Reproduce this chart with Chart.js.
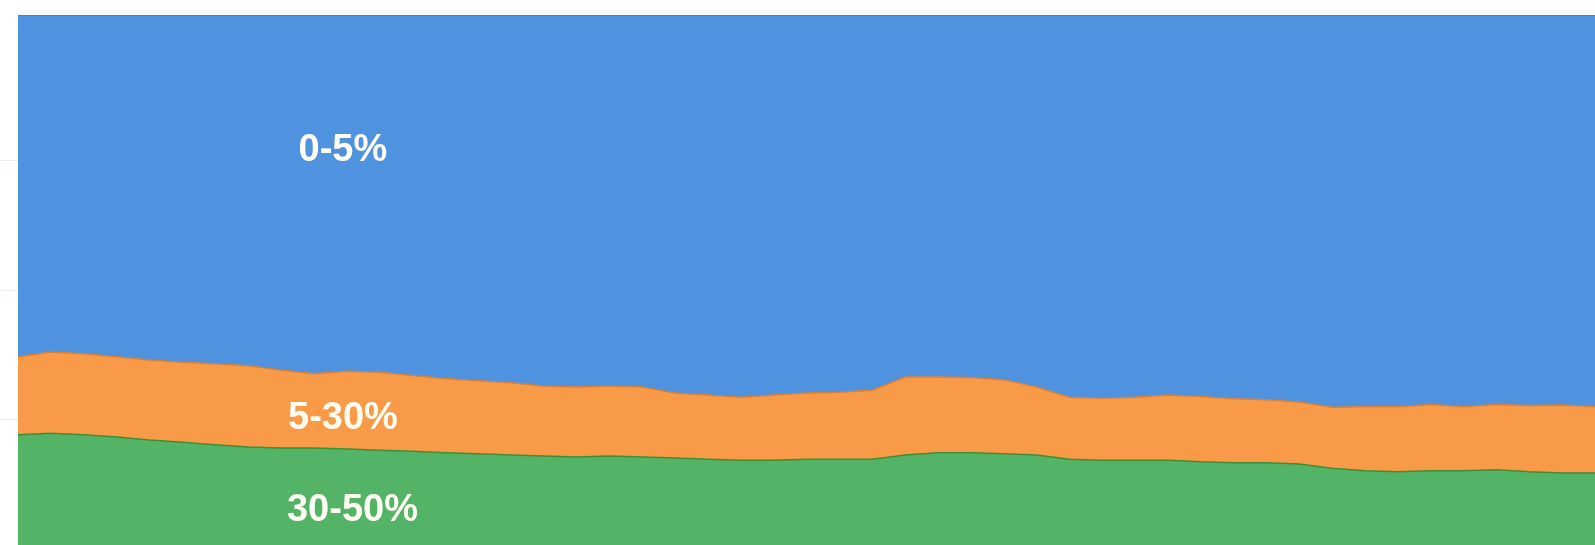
<!DOCTYPE html>
<html>
<head>
<meta charset="utf-8">
<script src="https://cdn.jsdelivr.net/npm/chart.js@4/dist/chart.umd.min.js"></script>
<style>
    html, body { margin: 0; padding: 0; background: #ffffff; }
    #wrap { width: 1595px; height: 545px; position: relative; }
</style>
</head>
<body>
<div id="wrap"><canvas id="shareChart"></canvas></div>
<script>
// Sample points, left to right
const categories = ['1','2','3','4','5','6','7','8','9','10','11','12','13','14','15','16','17',
    '18','19','20','21','22','23','24','25','26','27','28','29','30','31','32','33','34','35',
    '36','37','38','39','40','41','42','43','44','45','46','47','48','49'];

// Share of each bucket (%), stacked bottom to top
const share30to50 = [20.8, 21.1, 20.8, 20.4, 19.8, 19.4, 18.9, 18.5, 18.3, 18.3, 18.1, 17.9, 17.7,
    17.4, 17.2, 17.0, 16.8, 16.6, 16.8, 16.6, 16.4, 16.2, 16.0, 16.0, 16.2, 16.2, 16.2, 17.0, 17.4,
    17.4, 17.2, 17.0, 16.2, 16.0, 16.0, 16.0, 15.7, 15.5, 15.5, 15.3, 14.5, 14.0, 13.8, 14.0, 14.0,
    14.2, 13.8, 13.6, 13.6];
const share5to30 = [14.7, 15.3, 15.3, 15.1, 15.1, 15.1, 15.3, 15.3, 14.7, 14.0, 14.7, 14.7, 14.3,
    14.0, 13.8, 13.6, 13.2, 13.2, 13.2, 13.2, 12.3, 12.1, 11.9, 12.3, 12.5, 12.6, 13.0, 14.7, 14.3,
    14.2, 14.0, 12.8, 11.7, 11.7, 11.9, 12.3, 12.3, 12.1, 11.9, 11.7, 11.5, 12.1, 12.3, 12.5, 12.1,
    12.3, 12.5, 12.8, 12.5];
const share0to5 = [64.5, 63.6, 63.9, 64.5, 65.1, 65.5, 65.8, 66.2, 67.0, 67.7, 67.2, 67.4, 68.0,
    68.6, 69.0, 69.4, 70.0, 70.2, 70.0, 70.2, 71.3, 71.7, 72.1, 71.7, 71.3, 71.2, 70.8, 68.3, 68.3,
    68.4, 68.8, 70.2, 72.1, 72.3, 72.1, 71.7, 72.0, 72.4, 72.6, 73.0, 74.0, 73.9, 73.9, 73.5, 73.9,
    73.5, 73.7, 73.6, 73.9];

const yTicks = [23.6, 48.1, 72.6];

const seriesLabels = ['30-50%', '5-30%', '0-5%'];

// where each bucket name sits, in data units (category index, stacked %)
const labelAnchors = [
    { text: '0-5%', index: 9.89, value: 74.4 },
    { text: '5-30%', index: 9.89, value: 23.9 },
    { text: '30-50%', index: 10.18, value: 6.6 }
];

const bandLabels = {
    id: 'bandLabels',
    afterDatasetsDraw(chart) {
        const ctx = chart.ctx;
        const xs = chart.scales.x, ys = chart.scales.y;
        ctx.save();
        ctx.font = 'bold 38px "Liberation Sans", Arial, sans-serif';
        ctx.fillStyle = '#fffdf2';
        ctx.textAlign = 'center';
        ctx.textBaseline = 'middle';
        labelAnchors.forEach(a => {
            ctx.fillText(a.text, xs.getPixelForValue(a.index), ys.getPixelForValue(a.value));
        });
        ctx.restore();
    }
};

new Chart(document.getElementById('shareChart').getContext('2d'), {
    type: 'line',
    data: {
        labels: categories,
        datasets: [
            {
                label: seriesLabels[0],
                data: share30to50,
                backgroundColor: '#53b468',
                borderColor: '#3f8d35',
                borderWidth: 1.5,
                fill: 'origin'
            },
            {
                label: seriesLabels[1],
                data: share5to30,
                backgroundColor: '#f89a48',
                borderColor: '#d9803a',
                borderWidth: 1.5,
                fill: '-1'
            },
            {
                label: seriesLabels[2],
                data: share0to5,
                backgroundColor: '#4f92df',
                borderColor: '#3d7fcf',
                borderWidth: 1.5,
                fill: '-1'
            }
        ]
    },
    options: {
        responsive: true,
        maintainAspectRatio: false,
        animation: false,
        layout: { padding: { top: 15, left: 0, right: 0, bottom: 0 } },
        elements: {
            point: { radius: 0 },
            line: { tension: 0 }
        },
        plugins: {
            legend: { display: false },
            tooltip: { enabled: false }
        },
        scales: {
            x: {
                display: false,
                offset: false
            },
            y: {
                stacked: true,
                min: 0,
                max: 100,
                afterBuildTicks: (scale) => {
                    scale.ticks = yTicks.map(v => ({ value: v }));
                },
                ticks: { display: false },
                grid: {
                    drawOnChartArea: false,
                    drawTicks: true,
                    tickLength: 18,
                    color: '#f2eaea'
                },
                border: { display: false }
            }
        }
    },
    plugins: [bandLabels]
});
</script>
</body>
</html>
